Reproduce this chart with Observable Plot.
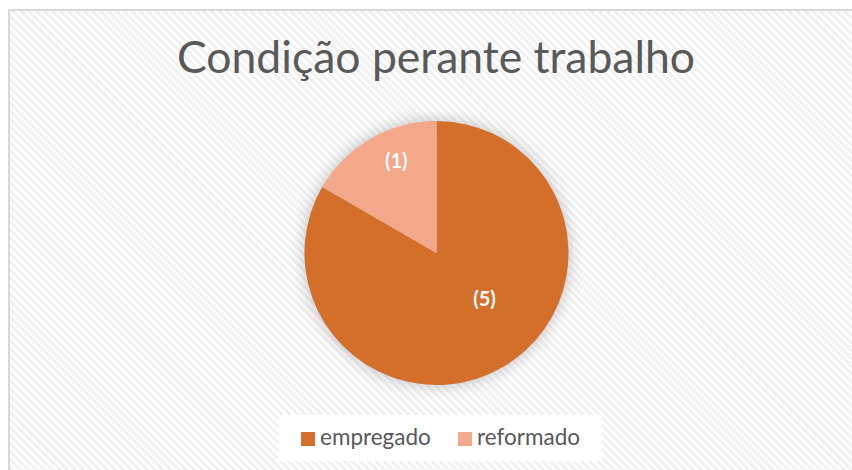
<!DOCTYPE html>
<html>
<head>
<meta charset="utf-8">
<script src="https://cdn.jsdelivr.net/npm/d3@7"></script>
<script src="https://cdn.jsdelivr.net/npm/@observablehq/plot@0.6"></script>
<style>
  html, body { margin: 0; padding: 0; background: #fff; overflow: hidden; }
  #page { position: relative; width: 852px; height: 470px; overflow: hidden; background: #fff; }
  #frame { position: absolute; left: 8px; top: 9px; width: 860px; height: 480px;
    border-top: 2px solid #d9d9d9; border-left: 2px solid #d9d9d9; box-sizing: border-box;
    background: repeating-linear-gradient(45deg, #ffffff 0px, #ffffff 2.6px, #f1f1f1 2.6px, #f1f1f1 5.6px); }
  #title { position: absolute; left: 0; width: 872px; top: 29px; text-align: center;
    font-family: Lato, sans-serif; font-size: 44.5px; color: #595959; white-space: nowrap; }
  #chart { position: absolute; left: 0; top: 0; }
  #legend { position: absolute; left: 278px; top: 415px; width: 324px; height: 46px; background: #fff;
    font-family: Lato, sans-serif; font-size: 22.5px; color: #595959; }
  .item { position: absolute; top: 0; height: 46px; line-height: 44px; white-space: nowrap; }
  .sw { display: inline-block; width: 14px; height: 14px; margin-right: 5px; vertical-align: -1px; }
</style>
</head>
<body>
<div id="page">
  <div id="frame"></div>
  <div id="title">Condição perante trabalho</div>
  <div id="chart"></div>
  <div id="legend"></div>
</div>
<script>
const categories = ["empregado", "reformado"];
const values = [5, 1];
const labels = ["(5)", "(1)"];
const colors = ["#D46E2B", "#F3A88B"];

const data = categories.map((c, i) => ({category: c, value: values[i], label: labels[i], color: colors[i]}));
const pie = d3.pie().sort(null).value(d => d.value)(data);
// Excel-like label placement: radius fraction and angular nudge (degrees)
const labelRadius = [0.5, 0.76];
const labelNudge = [-16, 6];
const labelData = pie.map((p, i) => {
  const mid = (p.startAngle + p.endAngle) / 2 + labelNudge[i] * Math.PI / 180;
  return {label: p.data.label, x: labelRadius[i] * Math.sin(mid), y: labelRadius[i] * Math.cos(mid)};
});

const cx = 436.5, cy = 253, r = 132;

const pieMark = (index, scales) => {
  const x0 = scales.x(0), y0 = scales.y(0);
  const rad = Math.abs(scales.x(1) - scales.x(0));
  const arc = d3.arc().innerRadius(0).outerRadius(rad);
  const g = d3.create("svg:g");
  const defs = g.append("defs");
  const f = defs.append("filter").attr("id", "pieShadow").attr("x", "-30%").attr("y", "-30%").attr("width", "160%").attr("height", "160%");
  f.append("feGaussianBlur").attr("stdDeviation", 7);
  g.append("circle").attr("cx", x0).attr("cy", y0).attr("r", rad + 2)
    .attr("fill", "#8c8c8c").attr("opacity", 0.45).attr("filter", "url(#pieShadow)");
  g.append("g").attr("transform", `translate(${x0},${y0})`)
    .selectAll("path").data(pie).join("path")
    .attr("d", arc).attr("fill", d => d.data.color);
  return g.node();
};

const chart = Plot.plot({
  width: 852,
  height: 470,
  style: {background: "transparent", overflow: "visible"},
  x: {domain: [-1, 1], range: [cx - r, cx + r], axis: null},
  y: {domain: [-1, 1], range: [cy + r, cy - r], axis: null},
  marks: [
    pieMark,
    Plot.text(labelData, {x: "x", y: "y", text: "label", fill: "#ffffff",
      fontSize: 20, fontWeight: "bold", fontFamily: "Lato, sans-serif"})
  ]
});
document.getElementById("chart").appendChild(chart);

const legend = document.getElementById("legend");
const legendX = [23, 180];
categories.forEach((c, i) => {
  const it = document.createElement("div");
  it.className = "item";
  it.style.left = legendX[i] + "px";
  it.innerHTML = `<span class="sw" style="background:${colors[i]}"></span>${c}`;
  legend.appendChild(it);
});
</script>
</body>
</html>
